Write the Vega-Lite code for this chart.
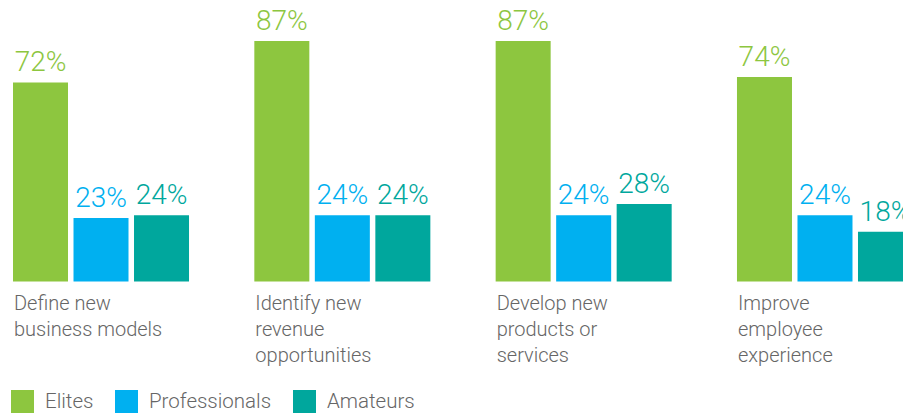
{
  "$schema": "https://vega.github.io/schema/vega-lite/v6.json",
  "width": 890,
  "height": 276.5,
  "autosize": {"type": "none"},
  "padding": {"left": 13, "top": 5, "right": 0, "bottom": 131.5},
  "data": {
    "values": [
      {"category": "Define new|business models", "group": "Elites", "value": 0.72},
      {"category": "Define new|business models", "group": "Professionals", "value": 0.23},
      {"category": "Define new|business models", "group": "Amateurs", "value": 0.24},
      {"category": "Identify new|revenue|opportunities", "group": "Elites", "value": 0.87},
      {"category": "Identify new|revenue|opportunities", "group": "Professionals", "value": 0.24},
      {"category": "Identify new|revenue|opportunities", "group": "Amateurs", "value": 0.24},
      {"category": "Develop new|products or|services", "group": "Elites", "value": 0.87},
      {"category": "Develop new|products or|services", "group": "Professionals", "value": 0.24},
      {"category": "Develop new|products or|services", "group": "Amateurs", "value": 0.28},
      {"category": "Improve|employee|experience", "group": "Elites", "value": 0.74},
      {"category": "Improve|employee|experience", "group": "Professionals", "value": 0.24},
      {"category": "Improve|employee|experience", "group": "Amateurs", "value": 0.18}
    ]
  },
  "encoding": {
    "x": {
      "field": "category",
      "type": "nominal",
      "sort": null,
      "title": null,
      "scale": {"range": [0, 900], "paddingInner": 0.2706, "paddingOuter": 0},
      "axis": {
        "orient": "bottom",
        "domain": false,
        "ticks": false,
        "tickSize": 0,
        "grid": false,
        "labelAngle": 0,
        "labelAlign": "left",
        "labelBaseline": "alphabetic",
        "labelOffset": -87,
        "labelPadding": 27.5,
        "labelFontSize": 20,
        "labelLineHeight": 26,
        "labelFont": "Roboto",
        "labelFontWeight": 300,
        "labelColor": "#666666",
        "labelOverlap": false,
        "labelBound": false,
        "labelFlush": false,
        "labelLimit": 300,
        "labelExpr": "split(datum.label, '|')"
      }
    },
    "xOffset": {
      "field": "group",
      "type": "nominal",
      "sort": ["Elites", "Professionals", "Amateurs"],
      "scale": {"paddingInner": 0.0909, "paddingOuter": 0}
    },
    "y": {
      "field": "value",
      "type": "quantitative",
      "scale": {"domain": [0, 1], "nice": false, "zero": true},
      "axis": null
    },
    "color": {
      "field": "group",
      "type": "nominal",
      "sort": ["Elites", "Professionals", "Amateurs"],
      "scale": {
        "domain": ["Elites", "Professionals", "Amateurs"],
        "range": ["#8DC63F", "#00B0F0", "#00A79D"]
      },
      "legend": {
        "title": null,
        "orient": "none",
        "legendX": -2,
        "legendY": 385,
        "direction": "horizontal",
        "padding": 0,
        "symbolType": "square",
        "symbolSize": 529,
        "symbolStrokeWidth": 0,
        "symbolOpacity": 1,
        "labelFontSize": 20.5,
        "labelFont": "Roboto",
        "labelFontWeight": 300,
        "labelColor": "#666666",
        "labelOffset": 11,
        "columnPadding": 21
      }
    }
  },
  "layer": [
    {"mark": {"type": "bar"}},
    {
      "mark": {
        "type": "text",
        "baseline": "alphabetic",
        "align": "center",
        "dy": -11,
        "fontSize": 28,
        "font": "Roboto",
        "fontWeight": 300
      },
      "encoding": {
        "text": {"field": "value", "type": "quantitative", "format": ".0%"}
      }
    }
  ],
  "config": {"view": {"stroke": null}}
}
